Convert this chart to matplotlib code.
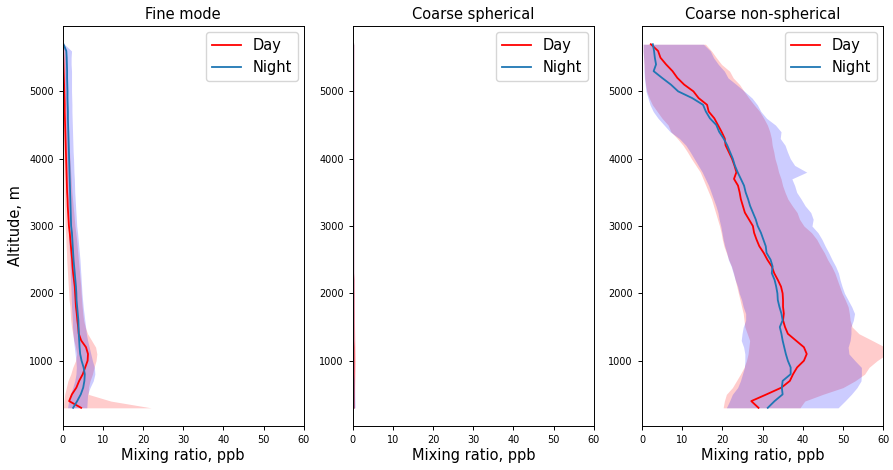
import numpy as np
import matplotlib
matplotlib.use("Agg")
import matplotlib.pyplot as plt

# Altitude levels of the vertical profiles (m)
altitude = [300, 400, 500, 600, 700, 800, 900, 1000, 1100, 1200,
            1300, 1400, 1500, 1600, 1700, 1800, 1900, 2000, 2100, 2200,
            2300, 2400, 2500, 2600, 2700, 2800, 2900, 3000, 3100, 3200,
            3300, 3400, 3500, 3600, 3700, 3800, 3900, 4000, 4100, 4200,
            4300, 4400, 4500, 4600, 4700, 4800, 4900, 5000, 5100, 5200,
            5300, 5400, 5500, 5600, 5700]

# ---- Fine mode (ppb) ----
fine_day_mean = [4.6, 1.6, 2.3, 3.4, 4.1, 5.0, 5.6, 6.2, 6.3, 5.8,
                 4.6, 4.0, 3.85, 3.65, 3.5, 3.3, 3.2, 3.1, 3.0, 2.8,
                 2.6, 2.45, 2.35, 2.2, 2.05, 1.9, 1.75, 1.55, 1.45, 1.35,
                 1.25, 1.2, 1.1, 1.05, 1.0, 0.95, 0.9, 0.85, 0.8, 0.75,
                 0.7, 0.65, 0.6, 0.55, 0.5, 0.5, 0.45, 0.4, 0.35, 0.3,
                 0.25, 0.2, 0.15, 0.1, 0.0]
fine_day_lo = [0.2, 0.3, 0.5, 0.9, 1.3, 2.0, 2.5, 3.2, 3.5, 3.2,
               2.8, 2.5, 2.2, 2.0, 1.9, 1.8, 1.6, 1.5, 1.4, 1.3,
               1.2, 1.1, 1.0, 0.95, 0.85, 0.8, 0.7, 0.6, 0.55, 0.5,
               0.45, 0.4, 0.35, 0.3, 0.3, 0.25, 0.25, 0.2, 0.2, 0.15,
               0.15, 0.1, 0.1, 0.1, 0.1, 0.05, 0.05, 0.05, 0.0, 0.0,
               0.0, 0.0, 0.0, 0.0, 0.0]
fine_day_hi = [22.0, 12.0, 6.4, 6.4, 6.8, 7.4, 7.8, 8.3, 8.5, 8.2,
               7.2, 6.2, 5.6, 5.2, 5.0, 4.85, 4.7, 4.6, 4.5, 4.35,
               4.2, 4.05, 3.9, 3.75, 3.6, 3.45, 3.25, 3.05, 2.9, 2.75,
               2.6, 2.45, 2.3, 2.2, 2.1, 2.0, 1.9, 1.8, 1.7, 1.6,
               1.55, 1.5, 1.4, 1.35, 1.3, 1.2, 1.15, 1.1, 1.0, 0.95,
               0.9, 0.8, 0.7, 0.6, 0.4]
fine_night_mean = [2.6, 3.6, 4.5, 5.1, 5.4, 5.5, 5.2, 4.7, 4.35, 4.2,
                   4.1, 4.0, 3.95, 3.9, 3.75, 3.6, 3.45, 3.4, 3.3, 3.15,
                   3.0, 2.85, 2.7, 2.6, 2.5, 2.4, 2.3, 2.1, 2.05, 2.0,
                   1.95, 1.9, 1.85, 1.8, 1.75, 1.7, 1.65, 1.6, 1.55, 1.5,
                   1.45, 1.4, 1.35, 1.3, 1.3, 1.25, 1.2, 1.2, 1.15, 1.1,
                   1.1, 1.05, 1.0, 0.9, 0.2]
fine_night_lo = [1.2, 1.5, 1.9, 2.5, 3.0, 3.3, 3.4, 3.3, 3.1, 2.9,
                 2.7, 2.55, 2.45, 2.4, 2.3, 2.2, 2.15, 2.1, 2.05, 1.95,
                 1.9, 1.85, 1.8, 1.7, 1.6, 1.5, 1.45, 1.35, 1.3, 1.2,
                 1.15, 1.1, 1.05, 1.0, 0.95, 0.9, 0.85, 0.8, 0.75, 0.7,
                 0.7, 0.65, 0.6, 0.6, 0.55, 0.55, 0.5, 0.5, 0.45, 0.4,
                 0.4, 0.35, 0.3, 0.3, 0.0]
fine_night_hi = [6.0, 6.1, 6.2, 6.8, 7.6, 8.0, 7.9, 7.4, 7.0, 6.6,
                 6.2, 5.9, 5.7, 5.5, 5.3, 5.1, 4.95, 4.8, 4.7, 4.6,
                 4.5, 4.4, 4.3, 4.15, 4.0, 3.85, 3.7, 3.5, 3.4, 3.3,
                 3.2, 3.1, 3.0, 2.95, 2.9, 2.8, 2.75, 2.7, 2.6, 2.55,
                 2.5, 2.45, 2.4, 2.35, 2.3, 2.3, 2.25, 2.2, 2.2, 2.2,
                 2.2, 2.1, 2.1, 2.2, 0.4]

# ---- Coarse spherical (ppb) ----
csph_day_mean = [0.2, 0.2, 0.2, 0.2, 0.2, 0.2, 0.2, 0.2, 0.2, 0.2,
                 0.15, 0.15, 0.15, 0.15, 0.15, 0.15, 0.15, 0.15, 0.15, 0.15,
                 0.1, 0.1, 0.1, 0.1, 0.1, 0.1, 0.1, 0.1, 0.1, 0.1,
                 0.1, 0.1, 0.1, 0.1, 0.1, 0.1, 0.1, 0.1, 0.1, 0.1,
                 0.1, 0.1, 0.1, 0.1, 0.1, 0.1, 0.1, 0.1, 0.1, 0.1,
                 0.1, 0.1, 0.1, 0.1, 0.1]
csph_day_lo = [0.0] * 55
csph_day_hi = [0.4, 0.4, 0.45, 0.5, 0.55, 0.6, 0.65, 0.7, 0.65, 0.6,
               0.55, 0.5, 0.45, 0.4, 0.4, 0.35, 0.35, 0.35, 0.3, 0.3,
               0.3, 0.3, 0.3, 0.3, 0.3, 0.3, 0.3, 0.3, 0.3, 0.3,
               0.3, 0.3, 0.3, 0.3, 0.3, 0.3, 0.3, 0.3, 0.3, 0.3,
               0.3, 0.3, 0.3, 0.3, 0.3, 0.3, 0.3, 0.3, 0.3, 0.3,
               0.3, 0.3, 0.3, 0.3, 0.3]
csph_night_mean = [0.15, 0.15, 0.15, 0.15, 0.15, 0.1, 0.1, 0.1, 0.1, 0.1,
                   0.1, 0.1, 0.1, 0.1, 0.1, 0.1, 0.1, 0.1, 0.1, 0.1,
                   0.1, 0.1, 0.1, 0.1, 0.1, 0.1, 0.1, 0.1, 0.1, 0.1,
                   0.1, 0.1, 0.1, 0.1, 0.1, 0.1, 0.1, 0.1, 0.1, 0.1,
                   0.1, 0.1, 0.1, 0.1, 0.1, 0.1, 0.1, 0.1, 0.1, 0.1,
                   0.1, 0.1, 0.1, 0.1, 0.1]
csph_night_lo = [0.0] * 55
csph_night_hi = [0.6, 0.55, 0.5, 0.45, 0.4, 0.35, 0.35, 0.3, 0.3, 0.3,
                 0.3, 0.3, 0.3, 0.3, 0.3, 0.3, 0.3, 0.3, 0.3, 0.3,
                 0.25, 0.25, 0.25, 0.25, 0.25, 0.25, 0.25, 0.25, 0.25, 0.25,
                 0.25, 0.25, 0.25, 0.25, 0.25, 0.25, 0.25, 0.25, 0.25, 0.25,
                 0.25, 0.25, 0.25, 0.25, 0.25, 0.25, 0.25, 0.25, 0.25, 0.25,
                 0.25, 0.25, 0.25, 0.25, 0.25]

# ---- Coarse non-spherical (ppb) ----
cns_day_mean = [29.0, 27.2, 31.0, 34.7, 36.8, 37.6, 38.6, 40.3, 41.0, 40.3,
                38.3, 36.3, 35.6, 35.1, 35.3, 35.1, 35.1, 35.0, 34.6, 33.8,
                32.9, 32.3, 31.2, 30.3, 29.2, 28.5, 27.9, 27.6, 26.6, 25.6,
                25.1, 24.6, 24.3, 23.9, 22.9, 23.5, 23.0, 22.4, 21.6, 20.8,
                20.6, 19.8, 18.9, 18.0, 16.6, 16.2, 14.1, 12.8, 10.5, 8.8,
                7.6, 6.0, 4.6, 4.0, 2.2]
cns_day_lo = [20.2, 20.5, 21.0, 22.5, 23.5, 24.5, 25.4, 26.0, 26.4, 26.6,
              26.8, 26.2, 25.6, 25.4, 25.2, 24.8, 24.4, 24.0, 23.6, 23.2,
              22.8, 22.3, 21.6, 21.0, 20.4, 20.0, 19.7, 19.3, 18.8, 18.3,
              17.8, 17.3, 16.6, 15.9, 15.2, 14.5, 13.4, 12.3, 11.3, 10.2,
              8.8, 7.2, 6.5, 5.0, 3.8, 2.6, 1.8, 1.2, 0.9, 0.7,
              0.6, 0.5, 0.4, 0.3, 0.3]
cns_day_hi = [39.3, 40.5, 45.0, 50.0, 53.0, 55.4, 56.5, 58.5, 61.0, 60.5,
              57.3, 54.0, 52.3, 51.8, 51.6, 51.3, 50.6, 49.8, 49.2, 48.6,
              48.0, 47.2, 46.2, 45.4, 44.4, 43.5, 42.2, 40.3, 39.2, 38.6,
              37.4, 36.3, 35.6, 35.0, 34.6, 34.0, 33.6, 33.1, 32.8, 32.4,
              32.2, 31.8, 31.2, 30.3, 29.3, 27.9, 26.6, 25.4, 24.3, 22.7,
              21.8, 19.8, 18.5, 17.3, 15.8]
cns_night_mean = [31.3, 33.0, 35.0, 34.8, 35.0, 37.0, 37.0, 36.3, 35.8, 35.4,
                  35.0, 34.7, 34.3, 35.0, 34.7, 34.2, 33.8, 33.7, 33.4, 33.0,
                  32.3, 32.5, 32.0, 31.0, 30.8, 30.2, 29.6, 28.8, 28.3, 27.6,
                  26.9, 26.4, 25.8, 25.4, 24.6, 23.8, 23.1, 22.6, 21.9, 21.2,
                  20.3, 19.2, 18.5, 16.9, 15.9, 15.2, 12.5, 9.0, 7.2, 5.0,
                  2.9, 3.5, 3.2, 3.0, 2.7]
cns_night_lo = [21.0, 21.8, 22.5, 23.8, 24.5, 25.0, 25.5, 25.6, 25.6, 25.3,
                24.7, 24.9, 25.2, 25.8, 25.8, 25.2, 24.8, 24.2, 23.8, 23.2,
                22.7, 22.2, 21.5, 21.1, 20.6, 20.2, 19.9, 19.6, 19.2, 18.9,
                18.4, 17.8, 17.2, 16.6, 15.8, 15.0, 14.0, 13.0, 12.0, 10.9,
                9.3, 7.0, 5.5, 4.0, 2.8, 2.0, 1.5, 1.0, 0.8, 0.6,
                0.5, 0.5, 0.4, 0.3, 0.3]
cns_night_hi = [48.8, 50.5, 52.1, 53.5, 54.5, 54.6, 54.6, 53.0, 51.5, 51.3,
                51.8, 52.0, 52.0, 52.6, 52.9, 52.2, 51.3, 50.4, 49.8, 49.3,
                48.9, 48.2, 47.3, 46.5, 45.6, 44.8, 43.8, 42.3, 42.6, 42.0,
                40.6, 39.6, 38.5, 38.0, 37.3, 41.0, 38.0, 36.9, 36.2, 35.6,
                34.4, 34.6, 33.2, 31.0, 29.6, 28.7, 27.4, 25.5, 23.5, 21.4,
                20.5, 19.0, 17.8, 17.0, 15.3]

panels = [
    ("Fine mode",
     (fine_day_mean, fine_day_lo, fine_day_hi),
     (fine_night_mean, fine_night_lo, fine_night_hi)),
    ("Coarse spherical",
     (csph_day_mean, csph_day_lo, csph_day_hi),
     (csph_night_mean, csph_night_lo, csph_night_hi)),
    ("Coarse non-spherical",
     (cns_day_mean, cns_day_lo, cns_day_hi),
     (cns_night_mean, cns_night_lo, cns_night_hi)),
]

x_ticks = [0, 10, 20, 30, 40, 50, 60]
y_ticks = [1000, 2000, 3000, 4000, 5000]

plt.rcParams["font.family"] = ["DejaVu Sans"]
fig = plt.figure(figsize=(8.93, 4.70), dpi=100)

lefts = [0.0702, 0.3950, 0.7189]
width = 0.2700
bottom, height = 0.0936, 0.8510

alt = np.array(altitude, dtype=float)
for i, (title, day, night) in enumerate(panels):
    ax = fig.add_axes([lefts[i], bottom, width, height])
    ax.fill_betweenx(alt, day[1], day[2], color="red", alpha=0.2, linewidth=0)
    ax.fill_betweenx(alt, night[1], night[2], color="blue", alpha=0.2, linewidth=0)
    ax.plot(day[0], alt, color="red", lw=1.3, label="Day")
    ax.plot(night[0], alt, color="tab:blue", lw=1.3, label="Night")
    ax.set_xlim(0, 60)
    ax.set_ylim(30, 5970)
    ax.set_xticks(x_ticks)
    ax.set_yticks(y_ticks)
    ax.tick_params(labelsize=7, length=3, width=0.7)
    for s in ax.spines.values():
        s.set_linewidth(0.7)
    ax.set_title(title, fontsize=10.5, pad=5)
    ax.set_xlabel("Mixing ratio, ppb", fontsize=10.5, labelpad=2)
    if i == 0:
        ax.set_ylabel("Altitude, m", fontsize=10.5, labelpad=4)
    ax.legend(loc="upper right", fontsize=10.5, handlelength=2.0,
              borderaxespad=0.4)

fig.savefig("out.png", dpi=100)
